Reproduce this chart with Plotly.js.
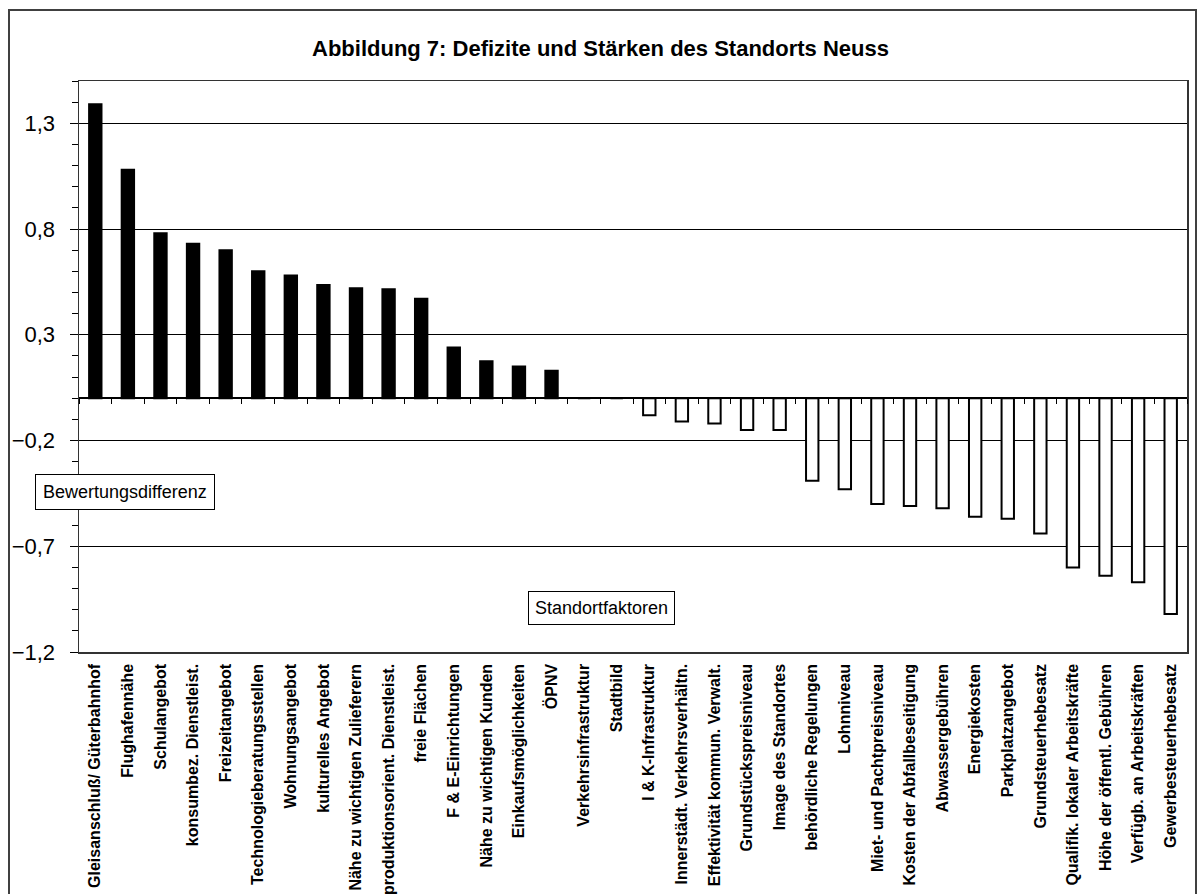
<!DOCTYPE html>
<html>
<head>
<meta charset="utf-8">
<script src="https://cdn.plot.ly/plotly-3.0.1.min.js"></script>
<style>
html,body{margin:0;padding:0;background:#fff;}
#chart{width:1201px;height:894px;}
</style>
</head>
<body>
<div id="chart"></div>
<script>
const categories = [
  "Gleisanschluß/ Güterbahnhof",
  "Flughafennähe",
  "Schulangebot",
  "konsumbez. Dienstleist.",
  "Freizeitangebot",
  "Technologieberatungsstellen",
  "Wohnungsangebot",
  "kulturelles Angebot",
  "Nähe zu wichtigen Zulieferern",
  "produktionsorient. Dienstleist.",
  "freie Flächen",
  "F & E-Einrichtungen",
  "Nähe zu wichtigen Kunden",
  "Einkaufsmöglichkeiten",
  "ÖPNV",
  "Verkehrsinfrastruktur",
  "Stadtbild",
  "I & K-Infrastruktur",
  "Innerstädt. Verkehrsverhältn.",
  "Effektivität kommun. Verwalt.",
  "Grundstückspreisniveau",
  "Image des Standortes",
  "behördliche Regelungen",
  "Lohnniveau",
  "Miet- und Pachtpreisniveau",
  "Kosten der Abfallbeseitigung",
  "Abwassergebühren",
  "Energiekosten",
  "Parkplatzangebot",
  "Grundsteuerhebesatz",
  "Qualifik. lokaler Arbeitskräfte",
  "Höhe der öffentl. Gebühren",
  "Verfügb. an Arbeitskräften",
  "Gewerbesteuerhebesatz"
];

const bewertungsdifferenz = [
  1.39, 1.08, 0.78, 0.73, 0.70, 0.60, 0.58, 0.535, 0.52, 0.515,
  0.47, 0.24, 0.175, 0.15, 0.13, 0, 0,
  -0.08, -0.11, -0.12, -0.15, -0.15, -0.39, -0.43, -0.50, -0.51,
  -0.52, -0.56, -0.57, -0.64, -0.80, -0.84, -0.87, -1.02
];

const yTickValues = [-1.2, -0.7, -0.2, 0.3, 0.8, 1.3];

const titleText = "Abbildung 7: Defizite und Stärken des Standorts Neuss";
const yLabelText = "Bewertungsdifferenz";
const xLabelText = "Standortfaktoren";

const fillColors = bewertungsdifferenz.map(v => v > 0 ? "#000000" : "#ffffff");

const traces = [
  {
    type: "bar",
    x: categories,
    y: bewertungsdifferenz,
    xaxis: "x",
    yaxis: "y",
    marker: { color: fillColors, line: { color: "#000000", width: 2 } },
    hoverinfo: "x+y",
    showlegend: false
  },
  {
    type: "scatter",
    mode: "none",
    x: categories,
    y: bewertungsdifferenz,
    xaxis: "x2",
    yaxis: "y",
    hoverinfo: "skip",
    showlegend: false
  }
];

const L = 79, R = 1187, T = 81, B = 652, W = 1201, H = 894;
const pw = R - L, ph = B - T;
const px = v => (v - L) / pw;
const py = v => (B - v) / ph;

const layout = {
  width: W,
  height: H,
  margin: { l: L, r: W - R, t: T, b: H - B },
  paper_bgcolor: "#ffffff",
  plot_bgcolor: "#ffffff",
  separators: ", ",
  font: { family: "Liberation Sans, Arial, sans-serif", color: "#000000" },
  bargap: 0.62,
  title: {
    text: titleText,
    font: { family: "Liberation Sans, Arial, sans-serif", size: 22, color: "#000000", weight: "bold" },
    x: 0.5, xanchor: "center",
    y: 1 - 48 / H, yanchor: "middle"
  },
  xaxis: {
    type: "category",
    range: [-0.5, categories.length - 0.5],
    showgrid: false,
    zeroline: false,
    showline: true,
    mirror: true,
    linecolor: "#333333",
    linewidth: 1.5,
    ticks: "",
    tickangle: -90,
    ticklabelstandoff: 4,
    tickfont: { family: "Liberation Sans, Arial, sans-serif", size: 16, color: "#000000", weight: "bold" },
    fixedrange: true
  },
  xaxis2: {
    type: "category",
    matches: "x",
    overlaying: "x",
    anchor: "free",
    position: 1.2 / 2.7,
    side: "bottom",
    showgrid: false,
    zeroline: false,
    showline: false,
    showticklabels: false,
    ticks: "outside",
    tickson: "boundaries",
    ticklen: 5,
    tickcolor: "#000000",
    tickwidth: 1
  },
  yaxis: {
    range: [-1.2, 1.5],
    tickvals: yTickValues,
    ticks: "outside",
    ticklen: 8,
    tickcolor: "#000000",
    tickwidth: 1,
    showgrid: true,
    gridcolor: "#000000",
    gridwidth: 1,
    zeroline: true,
    zerolinecolor: "#000000",
    zerolinewidth: 1.5,
    showline: true,
    mirror: true,
    linecolor: "#333333",
    linewidth: 1.5,
    ticklabelstandoff: 10,
    tickfont: { family: "Liberation Sans, Arial, sans-serif", size: 22, color: "#000000" },
    minor: { dtick: 0.1, tick0: -1.2, ticks: "outside", ticklen: 6, tickcolor: "#000000", tickwidth: 1, showgrid: false },
    fixedrange: true
  },
  annotations: [
    {
      text: yLabelText,
      xref: "paper", yref: "paper",
      x: px(125), y: py(492),
      xanchor: "center", yanchor: "middle",
      showarrow: false,
      font: { family: "Liberation Sans, Arial, sans-serif", size: 18, color: "#000000" },
      bgcolor: "#ffffff",
      bordercolor: "#000000",
      borderwidth: 1,
      borderpad: 7
    },
    {
      text: xLabelText,
      xref: "paper", yref: "paper",
      x: px(601), y: py(607.5),
      xanchor: "center", yanchor: "middle",
      showarrow: false,
      font: { family: "Liberation Sans, Arial, sans-serif", size: 18, color: "#000000" },
      bgcolor: "#ffffff",
      bordercolor: "#000000",
      borderwidth: 1,
      borderpad: 6
    }
  ],
  shapes: [
    {
      type: "rect",
      xref: "paper", yref: "paper",
      x0: px(9), x1: px(1196),
      y0: py(905), y1: py(10),
      line: { color: "#404040", width: 2 },
      fillcolor: "rgba(0,0,0,0)",
      layer: "below"
    }
  ]
};

Plotly.newPlot("chart", traces, layout, { staticPlot: true, displayModeBar: false });
</script>
</body>
</html>
